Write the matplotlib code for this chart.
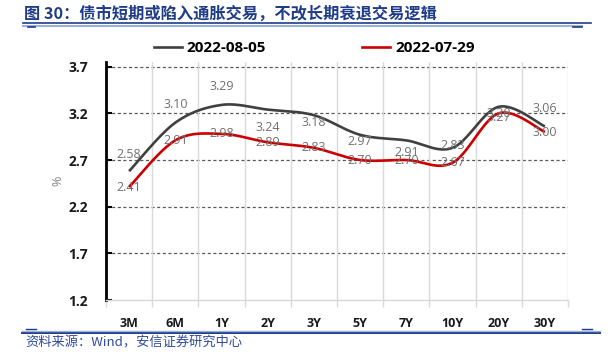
import numpy as np
import matplotlib
matplotlib.use("Agg")
import matplotlib.pyplot as plt
from matplotlib.lines import Line2D

plt.rcParams['font.family'] = ['Open Sans', 'Noto Sans CJK SC', 'DejaVu Sans']

# ---- data ----
categories = ["3M", "6M", "1Y", "2Y", "3Y", "5Y", "7Y", "10Y", "20Y", "30Y"]
series_0805 = [2.58, 3.10, 3.29, 3.24, 3.18, 2.97, 2.91, 2.83, 3.27, 3.06]
series_0729 = [2.41, 2.91, 2.98, 2.89, 2.83, 2.70, 2.70, 2.67, 3.20, 3.00]
label_0805 = "2022-08-05"
label_0729 = "2022-07-29"
yticks = [1.2, 1.7, 2.2, 2.7, 3.2, 3.7]
title = "图 30：债市短期或陷入通胀交易，不改长期衰退交易逻辑"
source = "资料来源：Wind，安信证券研究中心"

# label offsets (pixels, up positive) - layout only
off_0805 = [17, 18, 18, -18, -7, -7, -12, 2, -11, 18]
off_0729 = [0, 0, 0, 0, 0, 0, 0, 0, 0, 0]


def smooth(xs, ys, n=30):
    """Excel-like smoothed line: cubic Bezier with Catmull-Rom control points."""
    xs = np.asarray(xs, float); ys = np.asarray(ys, float)
    P = np.column_stack([xs, ys])
    out = []
    m = len(P)
    for i in range(m - 1):
        p0 = P[i - 1] if i > 0 else P[i]
        p1 = P[i]; p2 = P[i + 1]
        p3 = P[i + 2] if i + 2 < m else P[i + 1]
        c1 = p1 + (p2 - p0) / 6.0
        c2 = p2 - (p3 - p1) / 6.0
        t = np.linspace(0, 1, n)[:, None]
        seg = ((1 - t) ** 3) * p1 + 3 * ((1 - t) ** 2) * t * c1 + 3 * (1 - t) * t ** 2 * c2 + t ** 3 * p2
        out.append(seg if i == 0 else seg[1:])
    seg = np.vstack(out)
    return seg[:, 0], seg[:, 1]


W, H = 615, 355
fig = plt.figure(figsize=(W / 100, H / 100), dpi=100)
ax = fig.add_axes([106 / W, (H - 300) / H, (568 - 106) / W, (300 - 62) / H])

x = np.arange(len(categories))
grey = '#404040'
red = '#CC0000'

sx, sy = smooth(x, series_0805)
ax.plot(sx, sy, color=grey, lw=1.9, solid_capstyle='butt', zorder=3)
sx, sy = smooth(x, series_0729)
ax.plot(sx, sy, color=red, lw=1.9, solid_capstyle='butt', zorder=4)

lab_col = '#707070'
for xi, v, o in zip(x, series_0805, off_0805):
    ax.annotate(f"{v:.2f}", (xi, v), xytext=(0, o), textcoords='offset pixels',
                ha='center', va='center', fontsize=9, color=lab_col, zorder=5)
for xi, v, o in zip(x, series_0729, off_0729):
    ax.annotate(f"{v:.2f}", (xi, v), xytext=(0, o), textcoords='offset pixels',
                ha='center', va='center', fontsize=9, color=lab_col, zorder=5)

ax.set_xlim(-0.5, len(categories) - 0.5)
ax.set_ylim(1.2, 3.75)

# y axis
ax.set_yticks(yticks)
ax.set_yticklabels([f"{t:.1f}" for t in yticks], fontsize=10, fontweight='bold', color='#1a1a1a')
ax.tick_params(axis='y', direction='in', length=4, width=1.5, color='black', pad=13)
for t in yticks[1:]:
    ax.axhline(t, color='#595959', lw=0.9, ls=(0, (2.5, 2)), zorder=1)

# x axis
ax.set_xticks(x)
ax.set_xticklabels(categories, fontsize=9, fontweight='bold', color='#1a1a1a')
ax.set_xticks(np.arange(-0.5, len(categories)), minor=True)
ax.tick_params(axis='x', which='major', length=0, pad=12)
ax.tick_params(axis='x', which='minor', length=5, width=1, color='#D9D9D9', direction='out')
ax.grid(axis='x', which='minor', color='#D9D9D9', lw=1, zorder=0)
ax.grid(axis='x', which='major', visible=False)

ax.spines['top'].set_visible(False)
ax.spines['right'].set_visible(False)
ax.spines['left'].set_color('black')
ax.spines['left'].set_linewidth(2)
ax.spines['bottom'].set_color('#D9D9D9')
ax.spines['bottom'].set_linewidth(1)

ax.set_ylabel('%', color='#808080', fontsize=9, labelpad=3)

# legend
handles = [Line2D([], [], color=grey, lw=1.9), Line2D([], [], color=red, lw=1.9)]
fig.legend(handles, [label_0805, label_0729], loc='center', bbox_to_anchor=(314 / W, 1 - 48 / H),
           ncol=2, frameon=False, prop={'family': 'Open Sans', 'weight': 'bold', 'size': 11},
           handlelength=1.85, handletextpad=0.3, columnspacing=6.3)

# title and decorations
blue = '#1F3C88'
fig.text(24 / W, 1 - 13 / H, title, fontsize=11.7, fontweight='bold', color=blue,
         family=['Noto Sans CJK SC', 'DejaVu Sans'], va='center', ha='left')
fig.add_artist(Line2D([23 / W, 591 / W], [1 - 23 / H, 1 - 23 / H], color=blue, lw=1.2, transform=fig.transFigure))
fig.add_artist(Line2D([23 / W, 582 / W], [1 - 26 / H, 1 - 26 / H], color='#9DB2DA', lw=1.5, transform=fig.transFigure))
fig.add_artist(Line2D([28 / W, 35 / W], [1 - 27 / H, 1 - 27 / H], color=blue, lw=1.2, transform=fig.transFigure))
fig.add_artist(Line2D([573 / W, 582 / W], [1 - 27 / H, 1 - 27 / H], color=blue, lw=1.2, transform=fig.transFigure))

fig.add_artist(Line2D([22 / W, 600 / W], [1 - 333 / H, 1 - 333 / H], color=blue, lw=1.4, transform=fig.transFigure))
fig.add_artist(Line2D([22 / W, 600 / W], [1 - 331 / H, 1 - 331 / H], color='#9DB2DA', lw=1.0, transform=fig.transFigure))
fig.add_artist(Line2D([26 / W, 36 / W], [1 - 329 / H, 1 - 329 / H], color=blue, lw=1.0, transform=fig.transFigure))
fig.add_artist(Line2D([582 / W, 592 / W], [1 - 329 / H, 1 - 329 / H], color=blue, lw=1.0, transform=fig.transFigure))

fig.text(25 / W, 1 - 343 / H, source, fontsize=9.5, color='#2F4B9C', style='italic',
         family=['Noto Sans CJK SC', 'DejaVu Sans'], va='center', ha='left')

fig.savefig('out.png', dpi=100)
